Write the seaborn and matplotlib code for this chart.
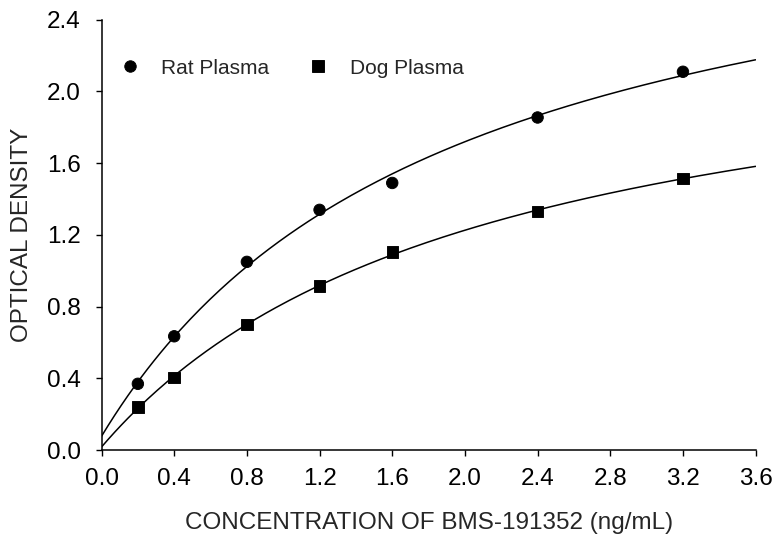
import numpy as np
import pandas as pd
import matplotlib
matplotlib.use("Agg")
import matplotlib.pyplot as plt
import seaborn as sns

# values
conc = [0.2, 0.4, 0.8, 1.2, 1.6, 2.4, 3.2]
rat_od = [0.37, 0.635, 1.05, 1.34, 1.49, 1.855, 2.11]
dog_od = [0.24, 0.405, 0.70, 0.915, 1.105, 1.33, 1.515]
x_ticks = [0.0, 0.4, 0.8, 1.2, 1.6, 2.0, 2.4, 2.8, 3.2, 3.6]
y_ticks = [0.0, 0.4, 0.8, 1.2, 1.6, 2.0, 2.4]

sns.set_style("ticks")
plt.rcParams['font.family'] = ['Liberation Sans', 'DejaVu Sans']


def fit_curve(x, y):
    # y = a + b*x/(c+x), grid over c, least squares for a and b
    x = np.asarray(x)
    y = np.asarray(y)
    best = None
    for c in np.linspace(0.1, 15, 1500):
        A = np.column_stack([np.ones_like(x), x / (c + x)])
        coef, _, _, _ = np.linalg.lstsq(A, y, rcond=None)
        err = np.sum((A @ coef - y) ** 2)
        if best is None or err < best[0]:
            best = (err, coef[0], coef[1], c)
    _, a, b, c = best
    xs = np.linspace(0, 3.6, 200)
    return xs, a + b * xs / (c + xs)


pts = pd.DataFrame({
    'conc': conc * 2,
    'od': rat_od + dog_od,
    'sample': ['Rat Plasma'] * len(conc) + ['Dog Plasma'] * len(conc),
})

fig, ax = plt.subplots(figsize=(7.75, 5.34), dpi=100)
fig.subplots_adjust(left=0.131, right=0.975, bottom=0.157, top=0.963)

for od in [rat_od, dog_od]:
    xs, ys = fit_curve(conc, od)
    sns.lineplot(x=xs, y=ys, color='black', linewidth=1.1, ax=ax)

sns.scatterplot(data=pts, x='conc', y='od', style='sample',
                markers={'Rat Plasma': 'o', 'Dog Plasma': 's'},
                color='black', s=68, edgecolor='black', ax=ax, zorder=3)

ax.set_xlim(0, 3.6)
ax.set_ylim(0, 2.4)
ax.set_xticks(x_ticks)
ax.set_yticks(y_ticks)
ax.set_xticklabels([f"{v:.1f}" for v in x_ticks])
ax.set_yticklabels([f"{v:.1f}" for v in y_ticks])
ax.tick_params(labelsize=17.5, length=4, width=1, color='black', labelcolor='black')
ax.tick_params(axis='y', pad=11)
ax.tick_params(axis='x', pad=9)
sns.despine(ax=ax)
for s in ['left', 'bottom']:
    ax.spines[s].set_color('black')
    ax.spines[s].set_linewidth(1.1)

ax.set_xlabel('CONCENTRATION OF BMS-191352 (ng/mL)', fontsize=17.5, labelpad=16)
ax.set_ylabel('OPTICAL DENSITY', fontsize=17.5, labelpad=10)

handles, labels = ax.get_legend_handles_labels()
ax.legend(handles, labels, ncol=2, frameon=False, fontsize=15,
          loc='upper left', bbox_to_anchor=(-0.017, 0.953),
          handletextpad=0.5, columnspacing=1.35, markerscale=1.0)

fig.savefig('out.png', dpi=100)
